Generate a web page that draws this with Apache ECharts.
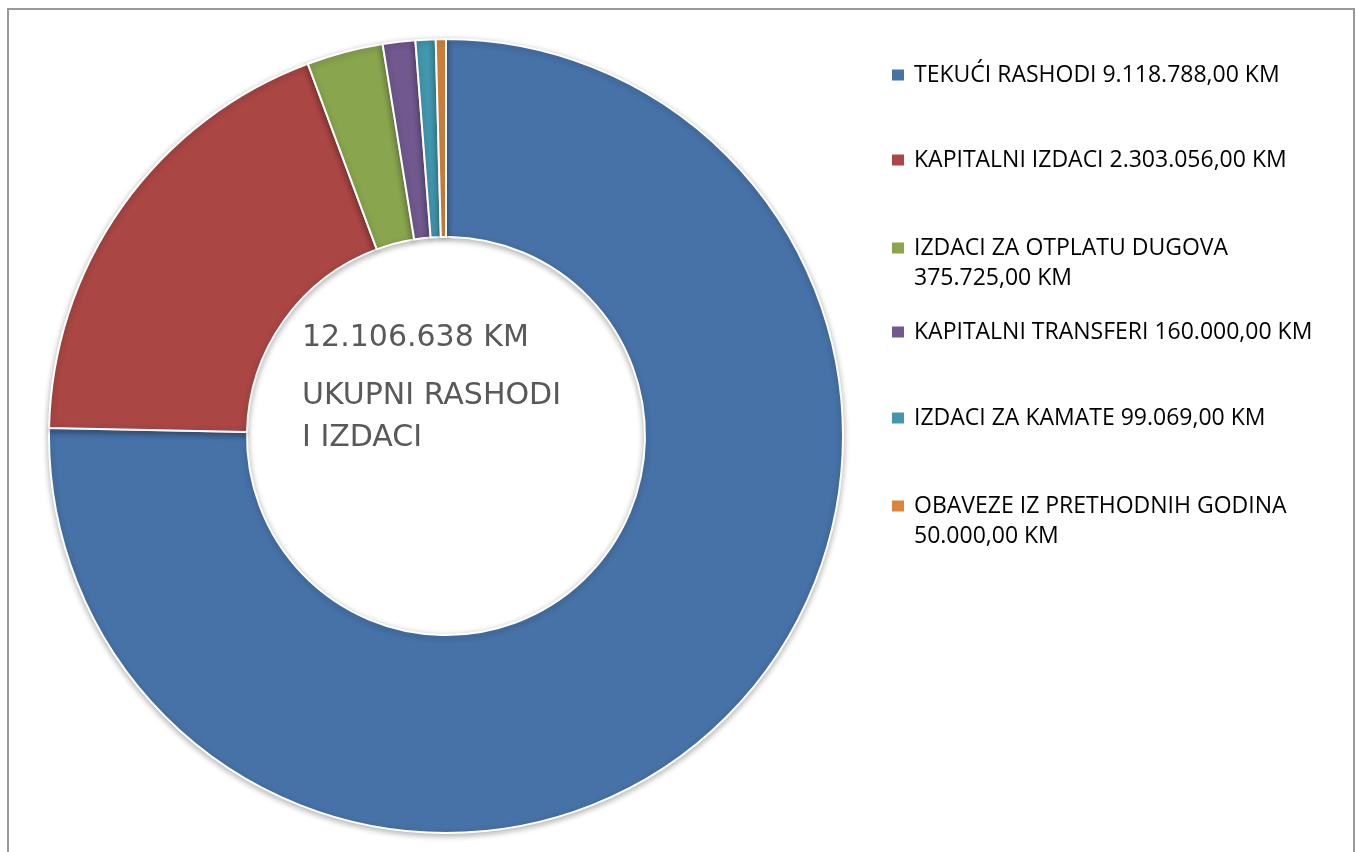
<!DOCTYPE html>
<html>
<head>
<meta charset="utf-8">
<script src="https://cdn.jsdelivr.net/npm/echarts@6/dist/echarts.min.js"></script>
<style>
  html, body { margin: 0; padding: 0; background: #fff; }
  #chart { width: 1356px; height: 852px; }
</style>
</head>
<body>
<div id="chart"></div>
<script>
const categories = [
  "TEKUĆI RASHODI",
  "KAPITALNI IZDACI",
  "IZDACI ZA OTPLATU DUGOVA",
  "KAPITALNI TRANSFERI",
  "IZDACI ZA KAMATE",
  "OBAVEZE IZ PRETHODNIH GODINA",
];
const values = [9118788, 2303056, 375725, 160000, 99069, 50000];
const valueLabels = ["9.118.788,00 KM", "2.303.056,00 KM", "375.725,00 KM", "160.000,00 KM", "99.069,00 KM", "50.000,00 KM"];
const totalLabel = "12.106.638 KM";
const centerLabel = "UKUPNI RASHODI\nI IZDACI";

const colors = ["#4672a7", "#aa4643", "#89a54e", "#71588f", "#4198af", "#db843d"];

const chart = echarts.init(document.getElementById("chart"));

// one legend per item so the rows keep even spacing
const names = categories.map((c, i) => c + " " + valueLabels[i]);
const rowCenters = [75, 160, 248, 332, 418, 506];

const legends = names.map((n, i) => {
  const wrap = n.length > 35;
  return {
    data: [n],
    orient: "vertical",
    left: 892,
    // wrapped rows get a blank line on top so the marker sits on the first line
    top: rowCenters[i] - (wrap ? 45 : 15),
    padding: 0,
    icon: "rect",
    itemWidth: 12,
    itemHeight: 11,
    selectedMode: false,
    itemStyle: { borderWidth: 0, shadowBlur: 0, shadowOffsetY: 0 },
    formatter: (name) => (wrap ? " \n" + categories[i] + "\n" + valueLabels[i] : name),
    textStyle: {
      fontFamily: "Open Sans",
      fontSize: 23,
      color: "#000",
      lineHeight: 30,
      padding: [0, 0, 0, 5],
    },
  };
});

chart.setOption({
  animation: false,
  color: colors,
  title: {
    text: totalLabel,
    subtext: centerLabel,
    left: 302,
    top: 320,
    padding: 0,
    itemGap: 19,
    textStyle: {
      fontFamily: "DejaVu Sans",
      fontSize: 30,
      fontWeight: "normal",
      color: "#595959",
      lineHeight: 36,
    },
    subtextStyle: {
      fontFamily: "DejaVu Sans",
      fontSize: 30,
      color: "#595959",
      lineHeight: 42,
    },
  },
  legend: legends,
  graphic: [
    {
      type: "rect",
      shape: { x: 8, y: 9, width: 1346, height: 900 },
      style: { fill: "none", stroke: "#999", lineWidth: 2 },
      silent: true,
    },
  ],
  series: [
    {
      type: "pie",
      center: [446, 436],
      radius: [199, 397],
      startAngle: 90,
      clockwise: true,
      label: { show: false },
      labelLine: { show: false },
      emphasis: { disabled: true },
      itemStyle: {
        borderColor: "#fff",
        borderWidth: 2,
        shadowBlur: 6,
        shadowColor: "rgba(0,0,0,0.3)",
        shadowOffsetY: 2,
      },
      data: names.map((n, i) => ({ name: n, value: values[i] })),
    },
  ],
});

window.addEventListener("resize", () => {
  chart.resize();
});
</script>
</body>
</html>
